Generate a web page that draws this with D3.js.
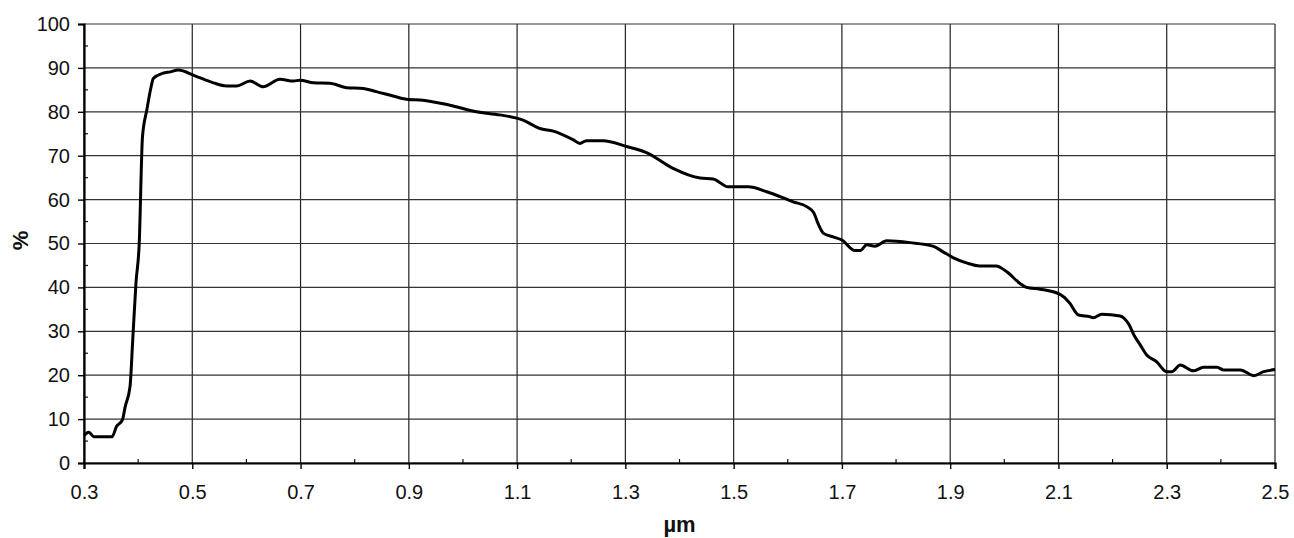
<!DOCTYPE html>
<html>
<head>
<meta charset="utf-8">
<script src="https://cdn.jsdelivr.net/npm/d3@7"></script>
<style>
  body { margin: 0; background: #fff; }
  text { font-family: "Liberation Sans", Arial, sans-serif; fill: #111; }
</style>
</head>
<body>
<script>
// wavelength (µm) and reflectance (%)
const wavelength = [
  0.300, 0.309, 0.318, 0.352, 0.360, 0.371, 0.376, 0.385, 0.390, 0.396,
  0.402, 0.408, 0.416, 0.424, 0.428, 0.446, 0.459, 0.474, 0.505, 0.539,
  0.563, 0.582, 0.607, 0.631, 0.662, 0.687, 0.699, 0.724, 0.754, 0.785,
  0.816, 0.840, 0.871, 0.899, 0.921, 0.976, 1.025, 1.068, 1.111, 1.142,
  1.167, 1.204, 1.216, 1.228, 1.259, 1.302, 1.339, 1.388, 1.438, 1.462,
  1.490, 1.527, 1.561, 1.610, 1.635, 1.648, 1.656, 1.666, 1.684, 1.700,
  1.724, 1.734, 1.746, 1.761, 1.783, 1.826, 1.868, 1.887, 1.905, 1.930,
  1.955, 1.985, 2.004, 2.029, 2.041, 2.066, 2.103, 2.121, 2.137, 2.158,
  2.164, 2.180, 2.214, 2.229, 2.241, 2.251, 2.263, 2.281, 2.300, 2.309,
  2.325, 2.349, 2.368, 2.393, 2.405, 2.436, 2.461, 2.479, 2.500
];
const percent = [
  6.3, 7.0, 6.0, 6.0, 8.3, 9.8, 12.8, 17.4, 28.0, 41.0,
  50.0, 74.3, 80.4, 85.7, 87.6, 88.8, 89.1, 89.5, 88.2, 86.6,
  85.9, 85.9, 87.0, 85.7, 87.4, 87.0, 87.2, 86.6, 86.5, 85.5,
  85.3, 84.6, 83.6, 82.8, 82.7, 81.5, 80.0, 79.3, 78.1, 76.2,
  75.6, 73.6, 72.8, 73.4, 73.4, 72.1, 70.7, 67.1, 64.9, 64.7,
  62.9, 62.9, 61.8, 59.5, 58.4, 57.0, 54.5, 52.3, 51.5, 50.8,
  48.4, 48.4, 49.7, 49.4, 50.6, 50.2, 49.4, 48.1, 46.8, 45.6,
  44.9, 44.9, 43.6, 40.9, 40.0, 39.6, 38.4, 36.4, 33.7, 33.3,
  33.1, 33.9, 33.5, 31.8, 28.8, 26.9, 24.6, 23.1, 20.8, 20.8,
  22.3, 21.0, 21.8, 21.8, 21.2, 21.2, 19.9, 20.8, 21.3
];
const xTicks = [0.3, 0.5, 0.7, 0.9, 1.1, 1.3, 1.5, 1.7, 1.9, 2.1, 2.3, 2.5];
const xMinor = [0.4, 0.6, 0.8, 1.0, 1.2, 1.4, 1.6, 1.8, 2.0, 2.2, 2.4];
const yTicks = [0, 10, 20, 30, 40, 50, 60, 70, 80, 90, 100];
const yMinor = [5, 15, 25, 35, 45, 55, 65, 75, 85, 95];

const width = 1294, height = 538;
const margin = { top: 24, right: 19, bottom: 75, left: 84 };

const svg = d3.select('body').append('svg')
  .attr('width', width)
  .attr('height', height);

const x = d3.scaleLinear().domain([0.3, 2.5]).range([margin.left, width - margin.right]);
const y = d3.scaleLinear().domain([0, 100]).range([height - margin.bottom, margin.top]);

// grid
svg.append('g')
  .selectAll('line')
  .data(xTicks)
  .join('line')
  .attr('x1', d => x(d)).attr('x2', d => x(d))
  .attr('y1', y(100)).attr('y2', y(0))
  .attr('stroke', '#222').attr('stroke-width', 1.2);

svg.append('g')
  .selectAll('line')
  .data(yTicks)
  .join('line')
  .attr('x1', x(0.3)).attr('x2', x(2.5))
  .attr('y1', d => y(d)).attr('y2', d => y(d))
  .attr('stroke', '#333').attr('stroke-width', 1.2);

// minor ticks, pointing into the plot
svg.append('g')
  .selectAll('line')
  .data(xMinor)
  .join('line')
  .attr('x1', d => x(d)).attr('x2', d => x(d))
  .attr('y1', y(0)).attr('y2', y(0) - 4)
  .attr('stroke', '#111').attr('stroke-width', 1.2);

svg.append('g')
  .selectAll('line')
  .data(yMinor)
  .join('line')
  .attr('x1', x(0.3)).attr('x2', x(0.3) + 4)
  .attr('y1', d => y(d)).attr('y2', d => y(d))
  .attr('stroke', '#111').attr('stroke-width', 1.2);

// axes
const xAxis = svg.append('g')
  .attr('transform', 'translate(0,' + y(0) + ')')
  .call(d3.axisBottom(x).tickValues(xTicks).tickSize(6).tickPadding(16)
    .tickFormat(d3.format('.1f')));
xAxis.select('.domain').attr('stroke', '#000').attr('stroke-width', 2.2);
xAxis.selectAll('.tick line').attr('stroke', '#000').attr('stroke-width', 1.4);
xAxis.selectAll('text').attr('font-size', 20).attr('fill', '#111')
  .attr('font-family', '"Liberation Sans", Arial, sans-serif');

const yAxis = svg.append('g')
  .attr('transform', 'translate(' + x(0.3) + ',0)')
  .call(d3.axisLeft(y).tickValues(yTicks).tickSize(6).tickPadding(8));
yAxis.select('.domain').attr('stroke', '#000').attr('stroke-width', 2.2);
yAxis.selectAll('.tick line').attr('stroke', '#000').attr('stroke-width', 1.4);
yAxis.selectAll('text').attr('font-size', 20).attr('fill', '#111')
  .attr('font-family', '"Liberation Sans", Arial, sans-serif');

// curve
const data = wavelength.map((w, i) => ({ w: w, p: percent[i] }));
const line = d3.line()
  .x(d => x(d.w))
  .y(d => y(d.p))
  .curve(d3.curveMonotoneX);

svg.append('path')
  .datum(data)
  .attr('d', line)
  .attr('fill', 'none')
  .attr('stroke', '#000')
  .attr('stroke-width', 3)
  .attr('stroke-linejoin', 'round');

// axis titles
svg.append('text')
  .attr('x', (x(0.3) + x(2.5)) / 2)
  .attr('y', 532)
  .attr('text-anchor', 'middle')
  .attr('font-size', 22)
  .attr('font-weight', 'bold')
  .text('µm');

svg.append('text')
  .attr('transform', 'translate(28,' + (y(50) - 3) + ') rotate(-90)')
  .attr('text-anchor', 'middle')
  .attr('font-size', 22)
  .attr('font-weight', 'bold')
  .text('%');
</script>
</body>
</html>
